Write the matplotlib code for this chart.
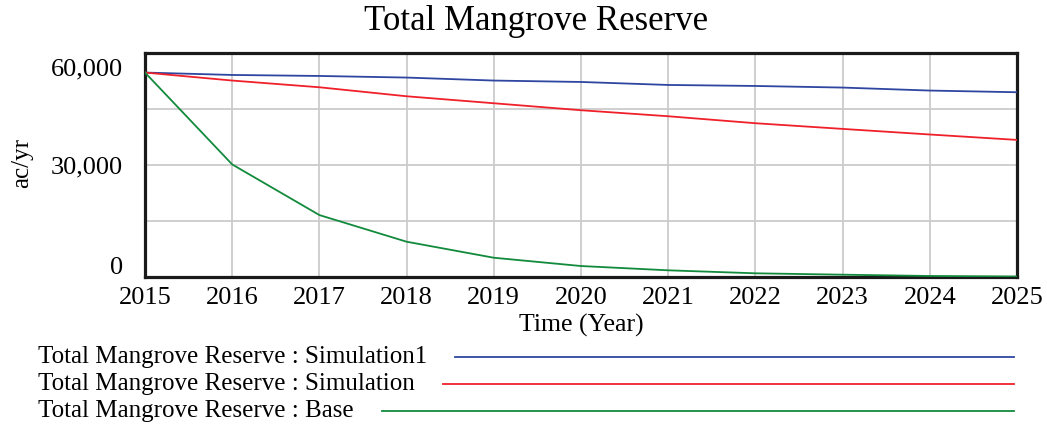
import numpy as np
import matplotlib
matplotlib.use('Agg')
import matplotlib.pyplot as plt
from matplotlib.lines import Line2D
from matplotlib.transforms import ScaledTranslation

# Data
years = [2015, 2016, 2017, 2018, 2019, 2020, 2021, 2022, 2023, 2024, 2025]
sim1 = [54760, 54120, 53850, 53420, 52620, 52240, 51440, 51170, 50740, 49940, 49490]
sim = [54760, 52620, 50820, 48410, 46540, 44670, 43060, 41190, 39670, 38170, 36720]
base = [54760, 30150, 16590, 9450, 5160, 2940, 1790, 990, 620, 270, 130]

series_names = ['Total Mangrove Reserve : Simulation1',
                'Total Mangrove Reserve : Simulation',
                'Total Mangrove Reserve : Base']
colors = ['#2E46A0', '#F0202A', '#128A3C']

plt.rcParams['font.family'] = ['Liberation Serif', 'DejaVu Serif']

W, H = 1047, 429
fig = plt.figure(figsize=(W / 100, H / 100), dpi=100)
ax = fig.add_axes([145 / W, 1 - 277 / H, (1017 - 145) / W, (277 - 53) / H])

for vals, c in zip([sim1, sim, base], colors):
    ax.plot(years, vals, color=c, lw=1.3, zorder=3)

ax.set_xlim(2015, 2025)
ax.set_ylim(0, 60000)
ax.set_xticks(years)
ax.set_yticks([0, 15000, 30000, 45000, 60000])
ax.set_yticklabels(['0', '', '30,000', '', '60,000'])
ax.grid(True, color='#cccccc', lw=1.3)
ax.tick_params(length=0, labelsize=19, pad=7)
ax.tick_params(axis='y', pad=16)
for sp in ax.spines.values():
    sp.set_linewidth(2.3)
    sp.set_color('#1a1a1a')

# Vensim keeps the end labels inside the axis range
ylabs = ax.get_yticklabels()
ylabs[0].set_transform(ylabs[0].get_transform() + ScaledTranslation(0, 12 / 100, fig.dpi_scale_trans))
ylabs[4].set_transform(ylabs[4].get_transform() + ScaledTranslation(0, -14 / 100, fig.dpi_scale_trans))

ax.set_xlabel('Time (Year)', fontsize=18.5, labelpad=4)
fig.text(22 / W, 1 - 163 / H, 'ac/yr', rotation=90, fontsize=18, ha='center', va='center')
fig.text(536 / W, 1 - 21 / H, 'Total Mangrove Reserve', fontsize=25, ha='center', va='center')

# legend below the plot: label, then a line running to the right edge
rows_y = [357, 384, 411]
fig.canvas.draw()
r = fig.canvas.get_renderer()
for name, c, yy in zip(series_names, colors, rows_y):
    t = fig.text(38 / W, 1 - yy / H, name, fontsize=18, ha='left', va='center')
    bb = t.get_window_extent(renderer=r)
    x0 = (bb.x1 + 28) / W
    fig.add_artist(Line2D([x0, 1014 / W], [1 - yy / H, 1 - yy / H], color=c, lw=1.3,
                          transform=fig.transFigure))

fig.savefig('out.png', dpi=100)
